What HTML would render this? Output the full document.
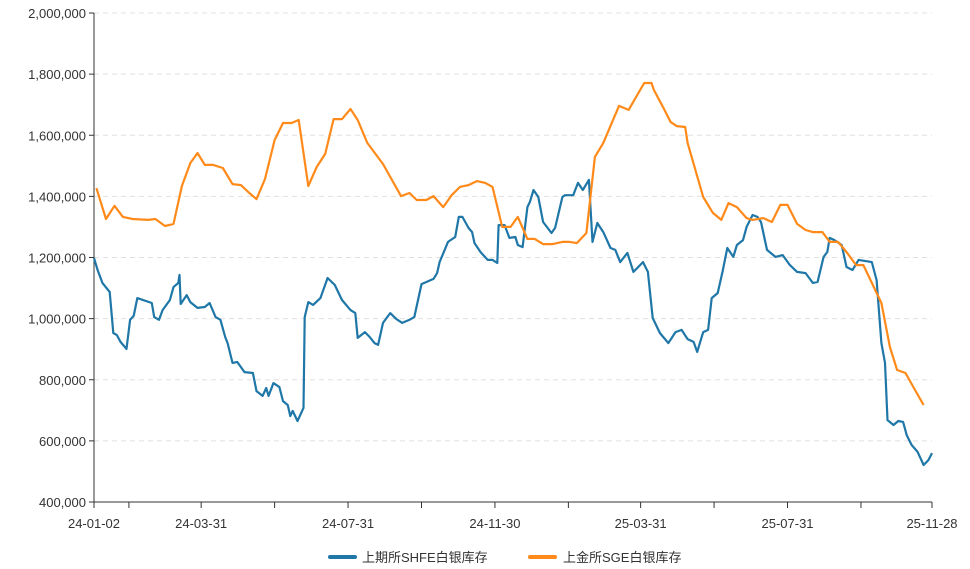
<!DOCTYPE html>
<html><head><meta charset="utf-8"><style>
body{margin:0;background:#fff;}
svg{display:block;font-family:"Liberation Sans","Noto Sans CJK SC",sans-serif;}
</style></head><body>
<svg id="chart" width="970" height="569" viewBox="0 0 970 569">
<g id="grid"></g>
<g id="yaxis"></g>
<g id="xaxis"></g>
<g id="series"></g>
<g>
  <g>
    <line x1="330" y1="557" x2="355" y2="557" stroke="#1f77a8" stroke-width="4" stroke-linecap="round"/>
    <text x="362" y="562" font-size="13" fill="#333">上期所SHFE白银库存</text>
  </g>
  <g>
    <line x1="530" y1="557" x2="555" y2="557" stroke="#ff8a1a" stroke-width="4" stroke-linecap="round"/>
    <text x="563" y="562" font-size="13" fill="#333">上金所SGE白银库存</text>
  </g>
</g>
</svg>
<script>
// days since 2024-01-02, values in thousands
const shfeDays = [0,3,7,13,16,19,22,27,30,33,36,48,50,54,57,63,66,70,71,72,77,80,86,92,96,101,105,109,111,115,119,125,132,135,140,143,145,149,154,157,161,163,165,169,174,175,178,182,188,194,200,206,213,217,219,225,229,233,236,240,246,251,256,262,266,272,282,285,287,294,300,303,306,311,314,316,321,327,331,335,336,341,345,350,352,356,360,362,365,369,373,380,383,389,391,398,402,406,411,414,418,423,429,433,437,443,448,456,460,464,470,477,483,488,493,498,501,506,510,513,518,522,526,531,534,539,542,547,551,554,559,566,572,578,584,591,597,601,606,609,611,615,621,625,630,635,646,650,654,657,659,664,668,672,675,679,684,689,693,696];
const shfeVals = [1198,1159,1117,1087,953,946,924,901,996,1009,1067,1051,1005,996,1028,1061,1103,1117,1143,1048,1077,1054,1035,1038,1051,1005,996,940,920,855,858,825,822,763,747,773,747,789,776,730,717,681,698,665,708,1005,1054,1045,1067,1133,1110,1061,1028,1018,937,956,940,920,914,986,1018,999,986,996,1005,1113,1130,1149,1185,1251,1267,1333,1333,1297,1283,1247,1218,1192,1192,1182,1306,1306,1264,1267,1241,1234,1365,1382,1421,1398,1316,1280,1297,1398,1404,1404,1444,1421,1454,1251,1313,1283,1231,1225,1185,1215,1153,1185,1153,1002,953,920,956,963,933,924,891,956,963,1067,1084,1153,1231,1202,1241,1257,1300,1339,1333,1316,1225,1202,1208,1175,1153,1149,1117,1120,1202,1218,1264,1257,1241,1169,1159,1192,1185,1126,920,855,668,652,665,662,619,587,564,521,537,560];
const sgeDays = [2,10,17,24,32,45,51,59,66,73,80,86,92,99,107,115,122,129,135,142,150,157,164,170,178,185,192,199,206,213,219,227,240,255,262,268,276,282,290,297,304,311,318,325,331,339,346,352,360,366,373,381,389,395,401,409,416,423,436,444,457,463,465,473,479,484,491,493,506,514,521,527,534,542,547,556,563,570,576,584,591,597,605,611,618,625,633,639,654,661,667,674,681,689];
const sgeVals = [1427,1326,1369,1333,1326,1323,1326,1303,1310,1434,1509,1542,1503,1503,1493,1440,1437,1411,1391,1457,1584,1640,1640,1650,1434,1496,1539,1653,1653,1686,1650,1575,1506,1401,1411,1388,1388,1401,1365,1404,1431,1437,1450,1444,1431,1300,1300,1333,1261,1261,1244,1244,1251,1251,1247,1280,1529,1575,1696,1683,1771,1771,1748,1689,1643,1630,1627,1575,1398,1346,1323,1378,1365,1329,1323,1329,1316,1372,1372,1310,1290,1283,1283,1251,1251,1218,1175,1175,1051,907,832,822,773,717];
const yTicks = [400,600,800,1000,1200,1400,1600,1800,2000];
const yTickLabels = ["400,000","600,000","800,000","1,000,000","1,200,000","1,400,000","1,600,000","1,800,000","2,000,000"];
const xTickDays = [0,29,89,150,211,272,333,394,454,515,576,637,696];
const xTickLabels = ["24-01-02","","24-03-31","","24-07-31","","24-11-30","","25-03-31","","25-07-31","","25-11-28"];

const NS="http://www.w3.org/2000/svg";
const X0=94,X1=932,Y0=502,Y1=13,DMAX=696,VMIN=400,VMAX=2000;
const xs=d=>X0+d/DMAX*(X1-X0);
const ys=v=>Y0-(v-VMIN)/(VMAX-VMIN)*(Y0-Y1);
function mk(tag,attrs,parent){const e=document.createElementNS(NS,tag);for(const k in attrs)e.setAttribute(k,attrs[k]);parent.appendChild(e);return e;}
const grid=document.getElementById('grid'),ya=document.getElementById('yaxis'),xa=document.getElementById('xaxis'),ser=document.getElementById('series');
yTicks.forEach((v,i)=>{
  const y=ys(v);
  if(i>0){const g=mk('line',{x1:X0,x2:X1,y1:y,y2:y,stroke:'#e0e0e0','stroke-dasharray':'5,4'},grid);
  
  }
  mk('line',{x1:X0-5,x2:X0,y1:y,y2:y,stroke:'#333'},ya);
  const t=mk('text',{x:X0-8,y:y+5,'text-anchor':'end','font-size':'13',fill:'#333'},ya);
  t.textContent=yTickLabels[i];
  
  
});
mk('line',{x1:X0,x2:X0,y1:Y1,y2:Y0,stroke:'#333'},ya);
mk('line',{x1:X0,x2:X1,y1:Y0,y2:Y0,stroke:'#333'},xa);
xTickDays.forEach((d,i)=>{
  const x=xs(d);
  mk('line',{x1:x,x2:x,y1:Y0,y2:Y0+6,stroke:'#333'},xa);
  if(xTickLabels[i]){const t=mk('text',{x:x,y:Y0+26,'text-anchor':'middle','font-size':'13',fill:'#333'},xa);
  t.textContent=xTickLabels[i];
  
  }
});
function line(days,vals,color,name){
  const p=mk('polyline',{points:days.map((d,i)=>xs(d).toFixed(1)+','+ys(vals[i]).toFixed(1)).join(' '),fill:'none',stroke:color,'stroke-width':'2.2','stroke-linejoin':'round'},ser);
  
  
}
line(shfeDays,shfeVals,'#1f77a8','shfe-line');
line(sgeDays,sgeVals,'#ff8a1a','sge-line');
</script>
</body></html>
